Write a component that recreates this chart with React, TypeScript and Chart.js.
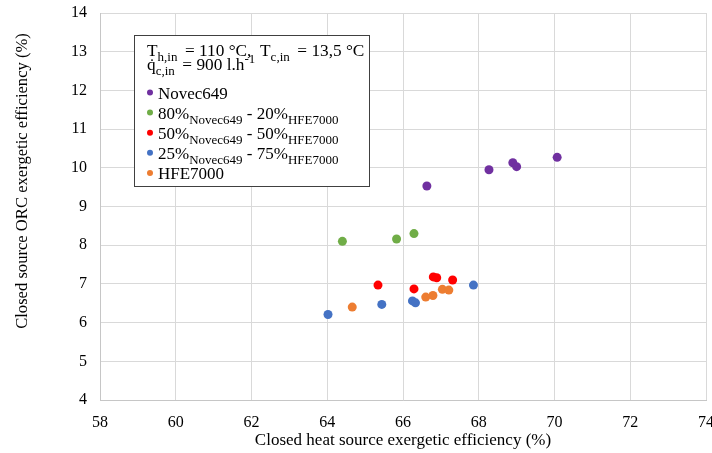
import { useEffect, useRef } from "react";
import { Chart, registerables } from "chart.js";

Chart.register(...registerables);

const FONT = "'Liberation Serif', 'Times New Roman', serif";

// Series data (x: closed heat source exergetic efficiency %, y: ORC exergetic efficiency %)
const novecX = [66.63, 68.27, 68.9, 69.0, 70.07];
const novecY = [9.53, 9.95, 10.13, 10.03, 10.27];
const mix80X = [64.4, 65.83, 66.29];
const mix80Y = [8.1, 8.16, 8.3];
const mix50X = [65.34, 66.29, 66.8, 66.89, 67.31];
const mix50Y = [6.97, 6.87, 7.18, 7.16, 7.1];
const mix25X = [64.02, 65.44, 66.25, 66.33, 67.86];
const mix25Y = [6.21, 6.47, 6.56, 6.51, 6.97];
const hfeX = [64.66, 66.6, 66.79, 67.04, 67.21];
const hfeY = [6.4, 6.66, 6.7, 6.86, 6.84];

const xTicks = [58, 60, 62, 64, 66, 68, 70, 72, 74];
const yTicks = [4, 5, 6, 7, 8, 9, 10, 11, 12, 13, 14];

const seriesColors = ["#7030A0", "#70AD47", "#FF0000", "#4472C4", "#ED7D31"];

type Part = { t: string; s?: "sub" | "sup" };

const headerLines: Part[][] = [
  [
    { t: "T" },
    { t: "h,in ", s: "sub" },
    { t: " = 110 °C,  T" },
    { t: "c,in ", s: "sub" },
    { t: " = 13,5 °C" },
  ],
  [{ t: "q\u0307" }, { t: "c,in ", s: "sub" }, { t: " = 900 l.h" }, { t: "-1", s: "sup" }],
];

const seriesNames: Part[][] = [
  [{ t: "Novec649" }],
  [{ t: "80%" }, { t: "Novec649", s: "sub" }, { t: " - 20%" }, { t: "HFE7000", s: "sub" }],
  [{ t: "50%" }, { t: "Novec649", s: "sub" }, { t: " - 50%" }, { t: "HFE7000", s: "sub" }],
  [{ t: "25%" }, { t: "Novec649", s: "sub" }, { t: " - 75%" }, { t: "HFE7000", s: "sub" }],
  [{ t: "HFE7000" }],
];

const xTitle = "Closed heat source exergetic efficiency (%)";
const yTitle = "Closed source ORC exergetic efficiency (%)";

const toPoints = (xs: number[], ys: number[]) => xs.map((x, i) => ({ x, y: ys[i] }));

const legendPlugin = {
  id: "customLegend",
  afterDraw(chart: any) {
    const ctx: CanvasRenderingContext2D = chart.ctx;
    ctx.save();
    // y axis title (offset upward like the reference)
    ctx.save();
    ctx.translate(23, 181);
    ctx.rotate(-Math.PI / 2);
    ctx.font = `16.6px ${FONT}`;
    ctx.fillStyle = "#000";
    ctx.textAlign = "center";
    ctx.textBaseline = "middle";
    ctx.fillText(yTitle, 0, 0);
    ctx.restore();

    const bx = 134.5,
      by = 35.5,
      bw = 235,
      bh = 151;
    ctx.fillStyle = "#ffffff";
    ctx.fillRect(bx, by, bw, bh);
    ctx.strokeStyle = "#404040";
    ctx.lineWidth = 1;
    ctx.strokeRect(bx, by, bw, bh);
    ctx.textBaseline = "alphabetic";
    ctx.textAlign = "left";
    const drawParts = (parts: Part[], x0: number, y: number, main = 17) => {
      let x = x0;
      for (const p of parts) {
        const size = p.s ? 13 : main;
        ctx.font = `${size}px ${FONT}`;
        const dy = p.s === "sub" ? 5 : p.s === "sup" ? -7 : 0;
        ctx.fillText(p.t, x, y + dy);
        x += ctx.measureText(p.t).width;
      }
    };
    ctx.fillStyle = "#000";
    drawParts(headerLines[0], 147, 56, 17.3);
    drawParts(headerLines[1], 147, 70, 17.3);
    chart.data.datasets.forEach((ds: any, i: number) => {
      const y = 99 + i * 20.1;
      ctx.fillStyle = ds.backgroundColor;
      ctx.beginPath();
      ctx.arc(150, y - 6.5, 3, 0, Math.PI * 2);
      ctx.fill();
      ctx.fillStyle = "#000";
      drawParts(seriesNames[i], 158, y);
    });
    ctx.restore();
  },
};

export default function App() {
  const ref = useRef<HTMLCanvasElement | null>(null);

  useEffect(() => {
    if (!ref.current) return;
    const dataSets = [
      toPoints(novecX, novecY),
      toPoints(mix80X, mix80Y),
      toPoints(mix50X, mix50Y),
      toPoints(mix25X, mix25Y),
      toPoints(hfeX, hfeY),
    ];
    const chart = new Chart(ref.current, {
      type: "scatter",
      data: {
        datasets: dataSets.map((d, i) => ({
          label: seriesNames[i].map((p) => p.t).join(""),
          data: d,
          backgroundColor: seriesColors[i],
          borderColor: seriesColors[i],
          borderWidth: 0,
          pointRadius: 4.5,
          pointHoverRadius: 4.5,
        })),
      },
      options: {
        responsive: false,
        animation: false,
        events: [],
        layout: { autoPadding: false, padding: { top: 13, right: 6, left: 0, bottom: 0 } },
        plugins: {
          legend: { display: false },
          tooltip: { enabled: false },
          title: { display: false },
        },
        scales: {
          x: {
            type: "linear",
            min: xTicks[0],
            max: xTicks[xTicks.length - 1],
            afterFit: (s: any) => {
              s.height = 53;
              s.paddingLeft = 0;
              s.paddingRight = 0;
              s.paddingTop = 0;
              s.paddingBottom = 0;
            },
            afterBuildTicks: (s: any) => {
              s.ticks = xTicks.map((v) => ({ value: v }));
            },
            ticks: {
              padding: 13,
              color: "#000",
              font: { family: FONT, size: 16 },
              maxRotation: 0,
            },
            grid: { color: "#d9d9d9", drawTicks: false },
            border: { color: "#c6c6c6" },
            title: {
              display: true,
              text: xTitle,
              color: "#000",
              font: { family: FONT, size: 17 },
              padding: { top: 0, bottom: 2 },
            },
          },
          y: {
            type: "linear",
            min: yTicks[0],
            max: yTicks[yTicks.length - 1],
            afterFit: (s: any) => {
              s.width = 100;
              s.paddingLeft = 0;
              s.paddingRight = 0;
              s.paddingTop = 0;
              s.paddingBottom = 0;
            },
            afterBuildTicks: (s: any) => {
              s.ticks = yTicks.map((v) => ({ value: v }));
            },
            ticks: {
              padding: 13,
              color: "#000",
              font: { family: FONT, size: 16 },
            },
            grid: { color: "#d9d9d9", drawTicks: false },
            border: { color: "#c6c6c6" },
            title: { display: false },
          },
        },
      },
      plugins: [legendPlugin],
    });
    return () => chart.destroy();
  }, []);

  return (
    <div style={{ position: "fixed", left: 0, top: 0, width: 712, height: 453, background: "#fff" }}>
      <canvas ref={ref} width={712} height={453} style={{ display: "block", width: 712, height: 453 }} />
    </div>
  );
}
